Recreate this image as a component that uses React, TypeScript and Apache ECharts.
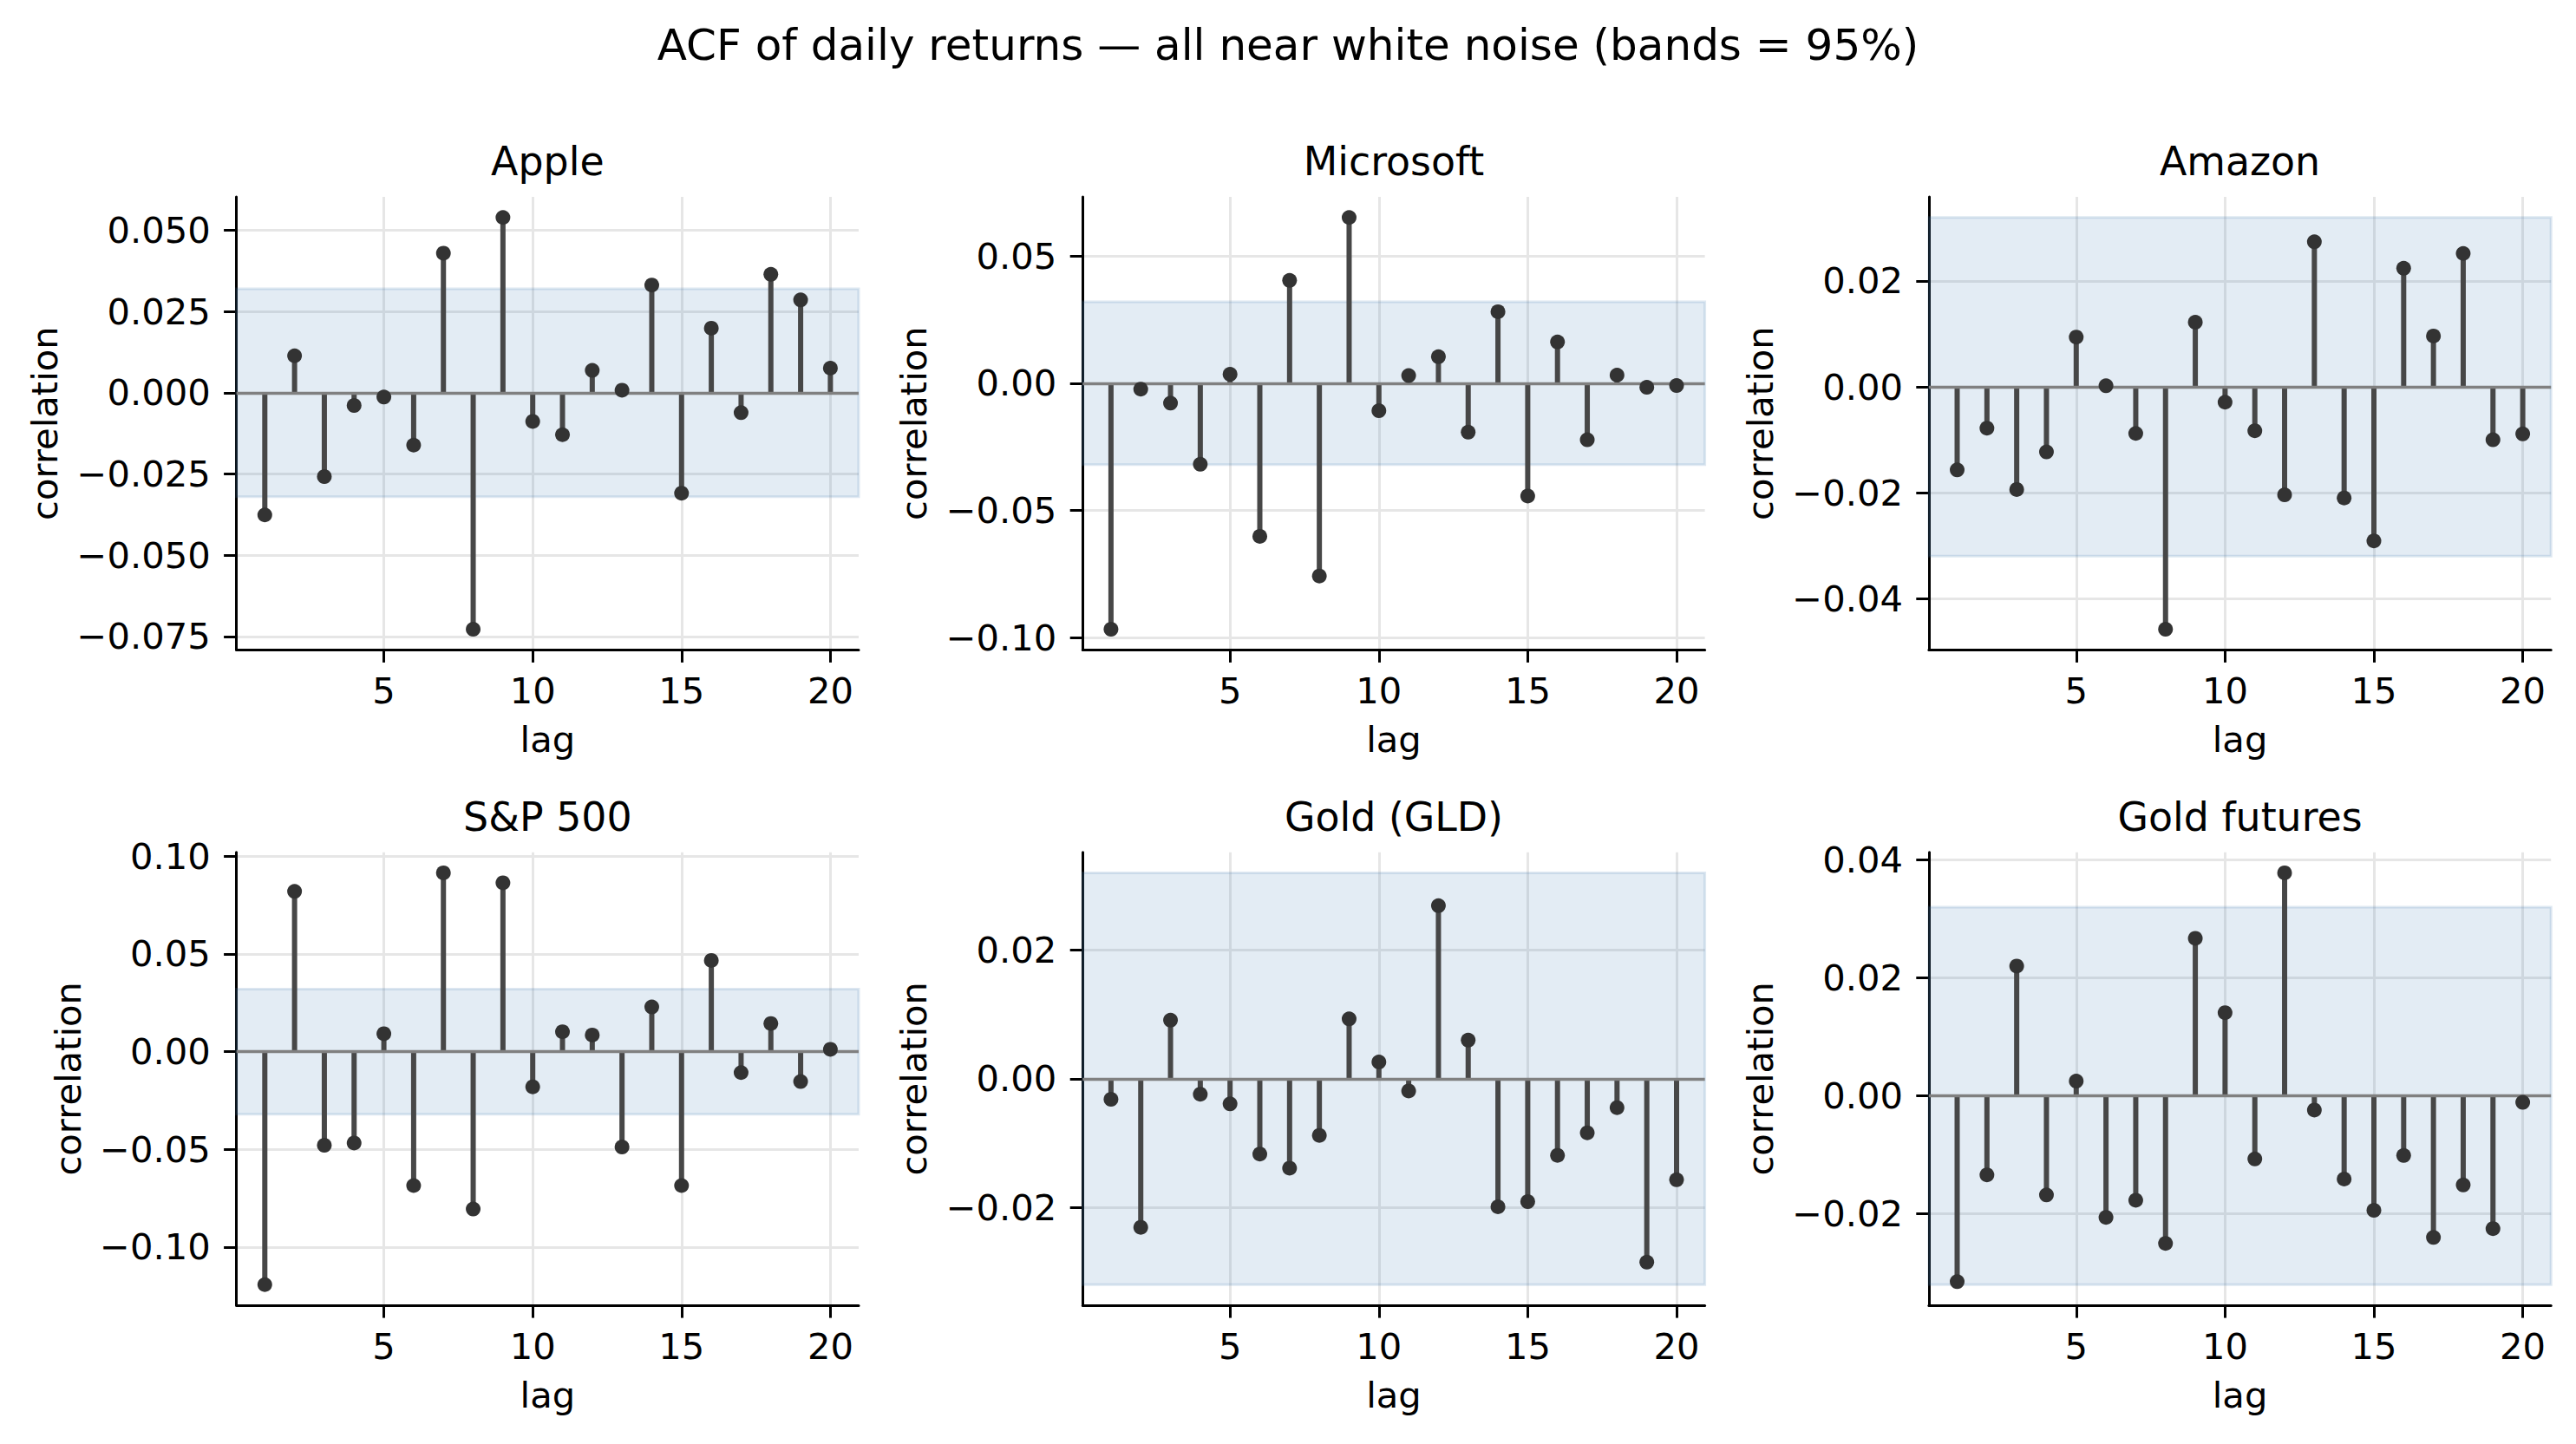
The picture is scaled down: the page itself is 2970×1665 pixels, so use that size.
import React, { useEffect, useRef } from 'react';
import * as echarts from 'echarts';

// ---- data ----
const LAGS = [1, 2, 3, 4, 5, 6, 7, 8, 9, 10, 11, 12, 13, 14, 15, 16, 17, 18, 19, 20];
const X_TICKS = [5, 10, 15, 20];
const BAND = 0.032;

const APPLE = [-0.0376, 0.0114, -0.0258, -0.0039, -0.0013, -0.0161, 0.0430, -0.0728, 0.0540, -0.0088,
  -0.0129, 0.0069, 0.0008, 0.0332, -0.0309, 0.0199, -0.0061, 0.0365, 0.0286, 0.0076];
const MICROSOFT = [-0.0966, -0.0023, -0.0078, -0.0318, 0.0035, -0.0601, 0.0404, -0.0757, 0.0651, -0.0108,
  0.0030, 0.0104, -0.0192, 0.0281, -0.0443, 0.0162, -0.0222, 0.0032, -0.0016, -0.0009];
const AMAZON = [-0.0157, -0.0078, -0.0194, -0.0123, 0.0094, 0.0002, -0.0088, -0.0458, 0.0122, -0.0029,
  -0.0083, -0.0204, 0.0274, -0.0210, -0.0291, 0.0224, 0.0096, 0.0252, -0.0100, -0.0089];
const SP500 = [-0.1192, 0.0820, -0.0479, -0.0467, 0.0092, -0.0685, 0.0915, -0.0805, 0.0864, -0.0180,
  0.0102, 0.0085, -0.0488, 0.0229, -0.0685, 0.0467, -0.0107, 0.0144, -0.0153, 0.0012];
const GLD = [-0.0032, -0.0231, 0.0091, -0.0024, -0.0039, -0.0117, -0.0139, -0.0088, 0.0093, 0.0026,
  -0.0019, 0.0269, 0.0060, -0.0199, -0.0191, -0.0119, -0.0084, -0.0045, -0.0285, -0.0157];
const GOLD_FUT = [-0.0315, -0.0134, 0.0220, -0.0168, 0.0025, -0.0206, -0.0177, -0.0250, 0.0267, 0.0141,
  -0.0107, 0.0378, -0.0024, -0.0141, -0.0194, -0.0101, -0.0240, -0.0151, -0.0225, -0.0011];

const APPLE_TICKS = [-0.075, -0.05, -0.025, 0, 0.025, 0.05];
const MICROSOFT_TICKS = [-0.1, -0.05, 0, 0.05];
const AMAZON_TICKS = [-0.04, -0.02, 0, 0.02];
const SP500_TICKS = [-0.1, -0.05, 0, 0.05, 0.1];
const GLD_TICKS = [-0.02, 0, 0.02];
const GOLD_FUT_TICKS = [-0.02, 0, 0.02, 0.04];

const NAMES = ['Apple', 'Microsoft', 'Amazon', 'S&P 500', 'Gold (GLD)', 'Gold futures'];
const VALUES = [APPLE, MICROSOFT, AMAZON, SP500, GLD, GOLD_FUT];
const TICKS = [APPLE_TICKS, MICROSOFT_TICKS, AMAZON_TICKS, SP500_TICKS, GLD_TICKS, GOLD_FUT_TICKS];
const DECIMALS = [3, 2, 2, 2, 2, 2];

const TITLE = 'ACF of daily returns \u2014 all near white noise (bands = 95%)';

// ---- layout ----
const W = 2970;
const H = 1665;
const COL_LEFT = [272.7, 1248.3, 2223.9];
const ROW_TOP = [227, 982.7];
const GW = 717.3;
const GH = 522.3;
const FONT = '"DejaVu Sans", sans-serif';
const TICK_FS = 41.67;
const LABEL_FS = 41.67;
const SUB_FS = 45.83;
const TITLE_FS = 50;

function fmt(v: number, d: number) {
  const s = Math.abs(v).toFixed(d);
  return (v < -1e-12 ? '\u2212' : '') + s;
}

function buildOption() {
  const grids: any[] = [];
  const xAxes: any[] = [];
  const yAxes: any[] = [];
  const series: any[] = [];
  const graphics: any[] = [];
  const xMin = LAGS[0] - 0.05 * (LAGS[LAGS.length - 1] - LAGS[0]);
  const xMax = LAGS[LAGS.length - 1] + 0.05 * (LAGS[LAGS.length - 1] - LAGS[0]);

  VALUES.forEach((vals, i) => {
    const col = i % 3;
    const row = Math.floor(i / 3);
    const lo = Math.min(...vals, -BAND);
    const hi = Math.max(...vals, BAND);
    const pad = 0.05 * (hi - lo);
    const d = DECIMALS[i];
    grids.push({
      left: COL_LEFT[col], top: ROW_TOP[row], width: GW, height: GH,
      containLabel: false, outerBoundsMode: 'none', show: false,
    });
    xAxes.push({
      type: 'value', gridIndex: i, min: xMin, max: xMax,
      name: 'lag', nameLocation: 'middle', nameGap: 82,
      nameTextStyle: { fontFamily: FONT, fontSize: LABEL_FS, color: '#000' },
      axisLine: { show: true, onZero: false, lineStyle: { color: '#000', width: 3 } },
      axisTick: { show: true, length: 14.6, lineStyle: { color: '#000', width: 3 }, customValues: X_TICKS },
      axisLabel: { show: true, margin: 26, fontFamily: FONT, fontSize: TICK_FS, color: '#000', customValues: X_TICKS },
      splitLine: { show: true, lineStyle: { color: '#e6e6e6', width: 3 } },
    });
    yAxes.push({
      type: 'value', gridIndex: i, min: lo - pad, max: hi + pad,
      name: 'correlation', nameLocation: 'middle', nameGap: i === 0 ? 200 : 173.5,
      nameTextStyle: { fontFamily: FONT, fontSize: LABEL_FS, color: '#000' },
      axisLine: { show: true, onZero: false, lineStyle: { color: '#000', width: 3 } },
      axisTick: { show: true, length: 14.6, lineStyle: { color: '#000', width: 3 }, customValues: TICKS[i] },
      axisLabel: {
        show: true, margin: 30, fontFamily: FONT, fontSize: TICK_FS, color: '#000', customValues: TICKS[i],
        formatter: (v: number) => fmt(v, d),
      },
      splitLine: { show: true, lineStyle: { color: '#e6e6e6', width: 3 } },
    });
    const pts = LAGS.map((l, k) => [l, vals[k]]);
    series.push({
      type: 'custom', xAxisIndex: i, yAxisIndex: i, z: 2, silent: true,
      data: pts,
      renderItem: (params: any, api: any) => {
        const x = api.value(0);
        const y = api.value(1);
        const p0 = api.coord([x, 0]);
        const p1 = api.coord([x, y]);
        return {
          type: 'line',
          shape: { x1: p0[0], y1: p0[1], x2: p1[0], y2: p1[1] },
          style: { stroke: '#474747', lineWidth: 6 },
        };
      },
      markArea: {
        silent: true,
        itemStyle: { color: 'rgba(70,130,180,0.15)', borderColor: 'rgba(70,130,180,0.18)', borderWidth: 3 },
        data: [[{ yAxis: -BAND }, { yAxis: BAND }]],
      },
      markLine: {
        silent: true, symbol: 'none', label: { show: false },
        lineStyle: { color: '#808080', width: 3.3, type: 'solid' },
        emphasis: { disabled: true },
        data: [{ yAxis: 0 }],
      },
    });
    series.push({
      type: 'scatter', xAxisIndex: i, yAxisIndex: i, z: 10, silent: true,
      symbol: 'circle', symbolSize: 17,
      itemStyle: { color: '#333333', opacity: 1 },
      data: pts,
    });
    graphics.push({
      type: 'text',
      x: COL_LEFT[col] + GW / 2,
      y: ROW_TOP[row] - 25 - 0.346 * SUB_FS,
      style: {
        text: NAMES[i], fontFamily: FONT, fontSize: SUB_FS, fill: '#000',
        align: 'center', verticalAlign: 'middle',
      },
    });
  });

  return {
    animation: false,
    backgroundColor: '#ffffff',
    title: {
      text: TITLE, left: 'center', top: 69 - 0.346 * TITLE_FS - TITLE_FS / 2, padding: 0,
      textStyle: { fontFamily: FONT, fontSize: TITLE_FS, fontWeight: 'normal', color: '#000', lineHeight: TITLE_FS },
    },
    grid: grids,
    xAxis: xAxes,
    yAxis: yAxes,
    series,
    graphic: graphics,
  };
}

export default function App() {
  const ref = useRef<HTMLDivElement>(null);
  useEffect(() => {
    if (!ref.current) return;
    const chart = echarts.init(ref.current, null, { renderer: 'svg' });
    chart.setOption(buildOption() as any);
    return () => chart.dispose();
  }, []);
  return (
    <div
      ref={ref}
      style={{ position: 'absolute', left: 0, top: 0, width: W, height: H, background: '#fff' }}
    />
  );
}
